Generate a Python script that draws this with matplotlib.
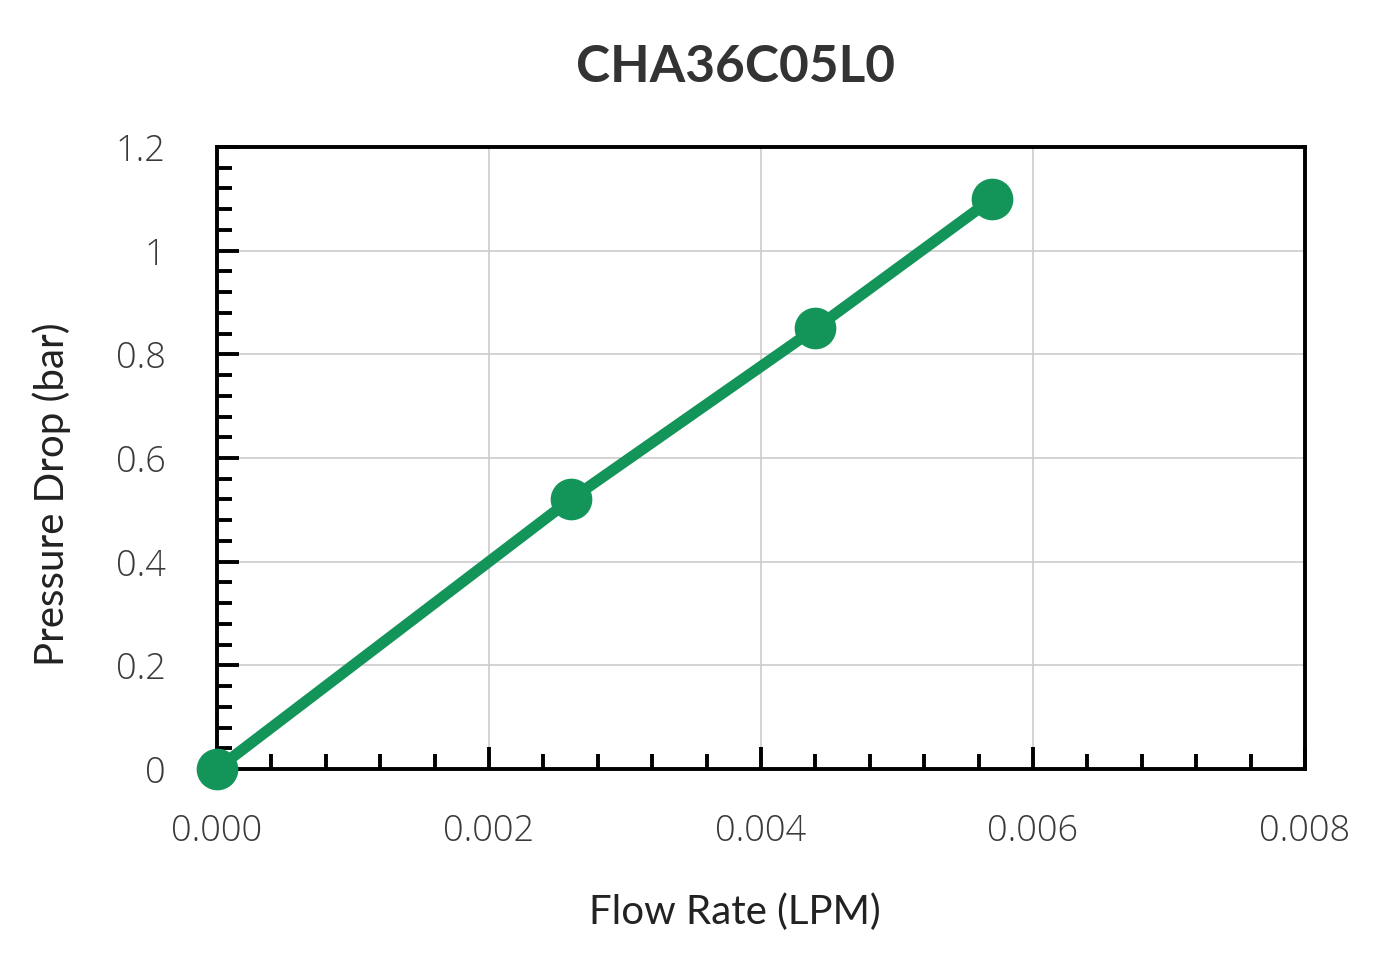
import matplotlib.pyplot as plt
from matplotlib.ticker import MultipleLocator, FuncFormatter

# data
flow = [0.0, 0.0026, 0.0044, 0.0057]
pressure = [0.0, 0.52, 0.85, 1.10]
title = "CHA36C05L0"
xlabel = "Flow Rate (LPM)"
ylabel = "Pressure Drop (bar)"

green = "#13955A"

plt.rcParams['font.family'] = ['Lato', 'DejaVu Sans']

fig = plt.figure(figsize=(14, 9.67), dpi=100)
ax = fig.add_axes([217/1400, 1-769/967, (1305-217)/1400, (769-147)/967])

ax.plot(flow, pressure, color=green, lw=8, marker='o', markersize=29,
        solid_capstyle='round', clip_on=False, zorder=5)

ax.set_xlim(0, 0.008)
ax.set_ylim(0, 1.2)
ax.xaxis.set_major_locator(MultipleLocator(0.002))
ax.xaxis.set_minor_locator(MultipleLocator(0.0004))
ax.yaxis.set_major_locator(MultipleLocator(0.2))
ax.yaxis.set_minor_locator(MultipleLocator(0.04))
ax.xaxis.set_major_formatter(FuncFormatter(lambda v, p: f"{v:.3f}"))
ax.yaxis.set_major_formatter(FuncFormatter(lambda v, p: f"{v:.1f}".rstrip('0').rstrip('.') if v else "0"))

ax.grid(True, which='major', color='#cccccc', lw=1.2)
ax.set_axisbelow(True)
for s in ax.spines.values():
    s.set_linewidth(2.8)
ax.tick_params(which='both', direction='in', width=2.8, top=False, right=False,
               labelsize=26, labelcolor='#3a3a3a')
ax.tick_params(which='major', length=16)
ax.tick_params(which='minor', length=11)
ax.tick_params(axis='x', pad=32)
ax.tick_params(axis='y', pad=37)
for lab in ax.get_xticklabels() + ax.get_yticklabels():
    lab.set_family(['Open Sans', 'DejaVu Sans'])
    lab.set_fontweight('light')

fig.text(735/1400, 1-912/967, xlabel, ha='center', va='center', fontsize=29,
         color='#222222')
fig.text(52/1400, 1-494/967, ylabel, ha='center', va='center', fontsize=29,
         color='#222222', rotation=90)
fig.text(735/1400, 1-67/967, title, ha='center', va='center', fontsize=37,
         fontweight='bold', color='#333333')

fig.savefig('out.png', dpi=100, facecolor='white')
